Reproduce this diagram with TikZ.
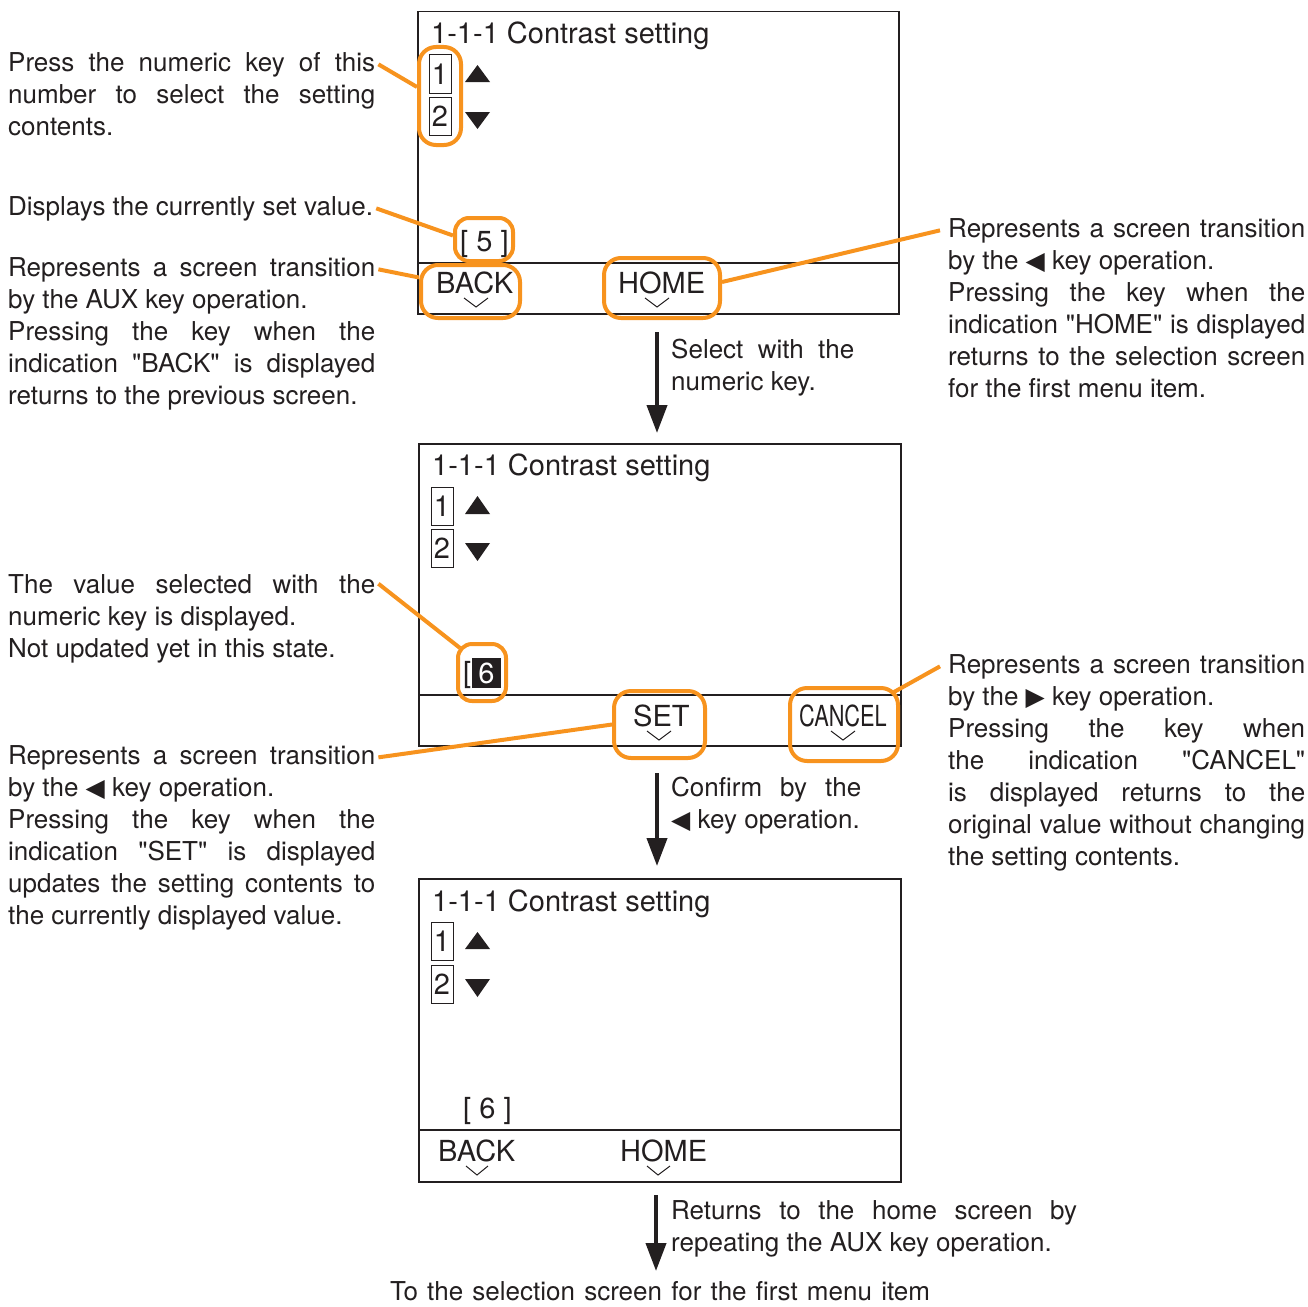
\documentclass[tikz,border=0pt]{standalone}
\usepackage{fontspec}
\setmainfont{TeX Gyre Heros}[Ligatures=TeXOff]
\newfontfamily\symf{DejaVu Sans}
\usepackage{graphicx}
\usetikzlibrary{arrows.meta}
\definecolor{hlor}{RGB}{247,147,30}
\definecolor{ink}{RGB}{35,31,32}
\newcommand\ltri{{\symf\fontsize{25}{25}\selectfont ◀}}
\newcommand\rtri{{\symf\fontsize{25}{25}\selectfont ▶}}
\newcommand\jline[4]{\node[txt] (#1) at (#2) {\makebox[#3pt][s]{#4}};}
\newcommand\lline[3]{\node[txt] (#1) at (#2) {#3};}
\tikzset{
  txt/.style={font=\fontsize{26}{32}\selectfont, text=ink, inner sep=0pt, anchor=base west},
  scr/.style={font=\fontsize{29}{34}\selectfont, text=ink, inner sep=0pt, anchor=base west},
  screen/.style={draw=ink, line width=1.5pt, anchor=north west, inner sep=0pt},
  sline/.style={draw=ink, line width=1.5pt},
  numbox/.style={draw=ink, line width=1pt, minimum width=22pt, minimum height=38pt, inner sep=0pt, font=\fontsize{29}{34}\selectfont, text=ink},
  hl/.style={draw=hlor, line width=4pt, rounded corners=17pt, inner sep=0pt},
  callout/.style={draw=hlor, line width=4pt},
  flow/.style={draw=ink, line width=4pt, -{Triangle[length=28pt,width=20pt]}},
  chev/.style={draw=ink, line width=1pt},
  tri/.style={fill=ink}
}
\begin{document}
\begin{tikzpicture}[x=1pt,y=-1pt]
\useasboundingbox (0,0) rectangle (1308,1306);

% ---------- Screen 1 ----------
\node[screen, minimum width=481pt, minimum height=302pt] (s1) at (417,11) {};
\draw[sline] (417,263) -- (898,263);
\node[scr] (s1t) at (431,44) {1-1-1 Contrast setting};
\node[numbox] (s1k1) at (440,74) {1};
\node[numbox] (s1k2) at (440,116) {2};
\fill[tri] (465,82) -- (490,82) -- (477.5,65) -- cycle;
\fill[tri] (465,112) -- (490,112) -- (477.5,129) -- cycle;
\node[scr] (s1v) at (460,251) {[ 5 ]};
\node[scr] (s1b) at (436,293) {BACK};
\node[scr] (s1h) at (618,293) {HOME};
\draw[chev] (464,298) -- (476,307) -- (488,298);
\draw[chev] (645,298) -- (657,307) -- (669,298);

% ---------- Screen 2 ----------
\node[screen, minimum width=482pt, minimum height=302pt] (s2) at (418,443) {};
\draw[sline] (418,695) -- (900,695);
\node[scr] (s2t) at (432,475) {1-1-1 Contrast setting};
\node[numbox] (s2k1) at (442,506) {1};
\node[numbox] (s2k2) at (442,548) {2};
\fill[tri] (465,514) -- (490,514) -- (477.5,496) -- cycle;
\fill[tri] (465,543) -- (490,543) -- (477.5,561) -- cycle;
\node[scr] (s2br) at (463,682) {[};
\node[fill=ink, text=white, minimum width=29pt, minimum height=30pt, inner sep=0pt, font=\fontsize{29}{34}\selectfont] (v6) at (486.5,673) {6};
\node[scr] (s2s) at (633,726) {SET};
\node[scr] (s2c) at (799,726) {\scalebox{0.75}[1]{CANCEL}};
\draw[chev] (647,731) -- (659,740) -- (671,731);
\draw[chev] (831,731) -- (843,740) -- (855,731);

% ---------- Screen 3 ----------
\node[screen, minimum width=482pt, minimum height=303pt] (s3) at (418,878) {};
\draw[sline] (418,1130) -- (900,1130);
\node[scr] (s3t) at (432,911) {1-1-1 Contrast setting};
\node[numbox] (s3k1) at (442,941.5) {1};
\node[numbox] (s3k2) at (442,984) {2};
\fill[tri] (465,949) -- (490,949) -- (477.5,932) -- cycle;
\fill[tri] (465,979) -- (490,979) -- (477.5,997) -- cycle;
\node[scr] (s3v) at (463,1118) {[ 6 ]};
\node[scr] (s3b) at (438,1161) {BACK};
\node[scr] (s3h) at (620,1161) {HOME};
\draw[chev] (466,1166) -- (477,1175) -- (488,1166);
\draw[chev] (647,1166) -- (658,1175) -- (670,1166);

% ---------- Highlights ----------
\node[hl, minimum width=42pt, minimum height=98pt] (h12) at (440,96) {};
\node[hl, minimum width=58pt, minimum height=43pt, rounded corners=14pt] (h5) at (484,239.5) {};
\node[hl, minimum width=99pt, minimum height=53pt] (hB) at (470.5,291.5) {};
\node[hl, minimum width=116pt, minimum height=60pt] (hH) at (662,288) {};
\node[hl, minimum width=48pt, minimum height=57pt, rounded corners=14pt] (hv) at (482,672.5) {};
\node[hl, minimum width=91pt, minimum height=67pt] (hS) at (659.5,724.5) {};
\node[hl, minimum width=108pt, minimum height=73pt] (hC) at (844,724.5) {};

% ---------- Left texts ----------
\jline{tA1}{8,71}{367}{Press the numeric key of this}
\jline{tA2}{8,103}{367}{number to select the setting}
\lline{tA3}{8,135}{contents.}
\lline{tB1}{8,215}{Displays the currently set value.}
\jline{tC1}{8,276}{367}{Represents a screen transition}
\lline{tC2}{8,308}{by the AUX key operation.}
\jline{tC3}{8,340}{367}{Pressing the key when the}
\jline{tC4}{8,372}{367}{indication "BACK" is displayed}
\lline{tC5}{8,404}{returns to the previous screen.}
\jline{tD1}{8,593}{367}{The value selected with the}
\lline{tD2}{8,625}{numeric key is displayed.}
\lline{tD3}{8,657}{Not updated yet in this state.}
\jline{tE1}{8,764}{367}{Represents a screen transition}
\lline{tE2}{8,796}{by the \ltri{} key operation.}
\jline{tE3}{8,828}{367}{Pressing the key when the}
\jline{tE4}{8,860}{367}{indication "SET" is displayed}
\jline{tE5}{8,892}{367}{updates the setting contents to}
\lline{tE6}{8,924}{the currently displayed value.}

% ---------- Right texts ----------
\jline{tF1}{948,237}{357}{Represents a screen transition}
\lline{tF2}{948,269}{by the \ltri{} key operation.}
\jline{tF3}{948,301}{357}{Pressing the key when the}
\jline{tF4}{948,333}{357}{indication "HOME" is displayed}
\jline{tF5}{948,365}{357}{returns to the selection screen}
\lline{tF6}{948,397}{for the first menu item.}
\jline{tG1}{948,673}{357}{Represents a screen transition}
\lline{tG2}{948,705}{by the \rtri{} key operation.}
\jline{tG3}{948,737}{357}{Pressing the key when}
\jline{tG4}{948,769}{357}{the indication "CANCEL"}
\jline{tG5}{948,801}{357}{is displayed returns to the}
\jline{tG6}{948,833}{357}{original value without changing}
\lline{tG7}{948,865}{the setting contents.}

% ---------- Flow texts ----------
\jline{tT1}{671,358}{183}{Select with the}
\lline{tT2}{671,390}{numeric key.}
\jline{tT3}{671,796}{190}{Confirm by the}
\lline{tT4}{671,828}{\ltri{} key operation.}
\jline{tT5}{671,1219}{406}{Returns to the home screen by}
\lline{tT6}{671,1251}{repeating the AUX key operation.}
\node[txt, anchor=base] (bot) at (660,1300) {\makebox[540pt][s]{To the selection screen for the first menu item}};

% ---------- Flow arrows ----------
\coordinate (a1s) at (657,332);
\coordinate (a1e) at (657,433);
\coordinate (a2s) at (657,773);
\coordinate (a2e) at (657,866);
\coordinate (a3s) at (656,1195);
\coordinate (a3e) at (656,1271);
\draw[flow] (a1s) -- (a1e);
\draw[flow] (a2s) -- (a2e);
\draw[flow] (a3s) -- (a3e);

% ---------- Callouts ----------
\draw[callout] ([xshift=3pt]tA1.east) -- ([yshift=9pt]h12.west);
\draw[callout] ([xshift=3pt]tB1.east) -- ([yshift=4pt]h5.west);
\draw[callout] ([xshift=3pt]tC1.east) -- ([yshift=14pt]hB.west);
\draw[callout] ([yshift=6pt]hH.east) -- ([xshift=-8pt]tF1.west);
\draw[callout] ([xshift=3pt]tD1.east) -- ([xshift=4pt,yshift=-6pt]hv.north west);
\draw[callout] (hS.west) -- ([xshift=3pt]tE1.east);
\draw[callout] ([xshift=-6pt,yshift=-6pt]hC.north east) -- ([xshift=-8pt]tG1.west);
\end{tikzpicture}
\end{document}
